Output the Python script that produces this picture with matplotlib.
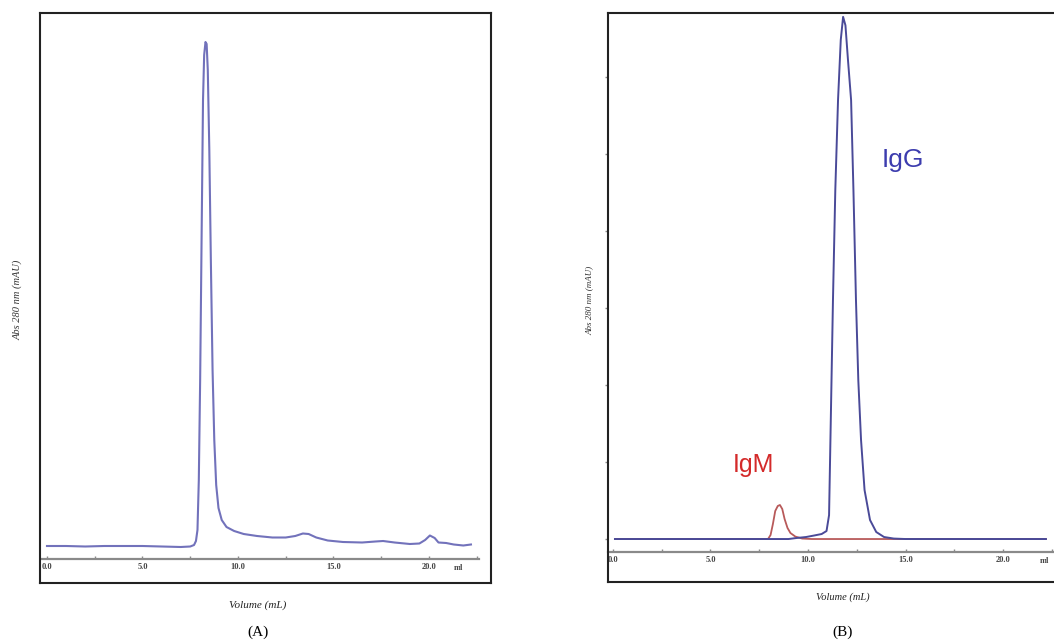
import numpy as np
import matplotlib
matplotlib.use('Agg')
import matplotlib.pyplot as plt

# panel A : single trace (volume mL, abs mAU)
vol_a = [0.0, 1.0, 2.0, 3.0, 4.0, 5.0, 6.0, 7.0, 7.5, 7.7, 7.8, 7.88, 7.95, 8.02, 8.1,
         8.17, 8.23, 8.3, 8.36, 8.42, 8.5, 8.58, 8.67, 8.76, 8.86, 8.98, 9.15, 9.4, 9.8,
         10.3, 11.0, 11.8, 12.5, 13.0, 13.4, 13.7, 14.1, 14.7, 15.5, 16.5, 17.2, 17.6,
         18.2, 19.0, 19.5, 19.8, 20.05, 20.3, 20.5, 20.9, 21.3, 21.8, 22.2]
abs_a = [13, 13, 12.5, 13, 13, 13, 12.5, 12, 12.5, 14, 18, 29, 79, 179, 329,
         459, 504, 517, 515, 489, 409, 299, 189, 119, 74, 51, 39, 32, 28,
         25, 23, 21.5, 21.5, 23, 25.5, 25, 21.5, 18.5, 17, 16.5, 17.5, 18,
         16.5, 15, 15.5, 19, 23.5, 21, 16.5, 16, 14.5, 13.5, 14.5]

# panel B : IgG (blue) and IgM (red) traces
vol_igg = [0.1, 2, 4, 6, 8, 9.0, 9.4, 9.9, 10.3, 10.7, 10.95, 11.08, 11.15, 11.28, 11.4,
           11.54, 11.68, 11.8, 11.92, 12.05, 12.21, 12.33, 12.46, 12.58, 12.72, 12.9,
           13.18, 13.5, 13.9, 14.4, 15, 17, 19, 20.5, 22.2]
abs_igg = [0, 0, 0, 0, 0, 0, 1.3, 2.6, 4.5, 6.5, 10.4, 31, 128.6, 310, 453,
           570, 648, 678, 667, 622, 570, 453, 310, 206, 128.6, 63.6,
           24.7, 9.1, 2.6, 0.6, 0, 0, 0, 0, 0]

vol_igm = [0.1, 3, 6, 7.95, 8.08, 8.2, 8.32, 8.45, 8.56, 8.68, 8.8, 8.95, 9.1, 9.35,
           9.7, 10.2, 15, 22.2]
abs_igm = [0, 0, 0, 0, 5.2, 19.5, 36.4, 42.9, 44.2, 39, 26, 14.3, 7.8, 3.2,
           0.6, 0, 0, 0]

x_major = [0, 5, 10, 15, 20]
x_minor = [2.5, 7.5, 12.5, 17.5, 22.5]
x_labels = ['0.0', '5.0', '10.0', '15.0', '20.0']

W, H = 1054, 644
fig = plt.figure(figsize=(W / 100, H / 100), dpi=100)

serif = 'Liberation Serif'


def inner_axis(ax, loc, bounds=None):
    sec = ax.secondary_xaxis(loc)
    sec.spines['bottom'].set_color('#8a8a8a')
    sec.spines['bottom'].set_linewidth(1.6)
    if bounds is not None:
        sec.spines['bottom'].set_bounds(*bounds)
    sec.set_xticks(x_major)
    sec.set_xticklabels(x_labels)
    sec.set_xticks(x_minor, minor=True)
    sec.tick_params(which='both', direction='in', length=2.5, width=1,
                    color='#8a8a8a', pad=3)
    sec.tick_params(which='major', labelsize=6, labelcolor='#444444')
    for t in sec.get_xticklabels():
        t.set_family(serif)
        t.set_fontweight('bold')
    return sec


def frame(ax):
    for s in ax.spines.values():
        s.set_color('#222222')
        s.set_linewidth(1.5)
    ax.set_xticks([])


# ---- panel A
axA = fig.add_axes([40 / W, (H - 583) / H, 451 / W, 570 / H])
frame(axA)
axA.set_yticks([])
axA.plot(vol_a, abs_a, color='#7272bb', lw=1.5)
axA.set_xlim(-0.366, 23.25)
axA.set_ylim(-24, 546)
inner_axis(axA, 24 / 570, bounds=(-0.3, 22.6))
axA.text(21.55, 24 / 570 - 0.016, 'ml', transform=axA.get_xaxis_transform(),
         ha='center', va='center', fontsize=6, family=serif, fontweight='bold',
         color='#444444')

# ---- panel B
axB = fig.add_axes([608 / W, (H - 582) / H, 450 / W, 569 / H])
frame(axB)
axB.spines['right'].set_visible(False)
axB.plot(vol_igm, abs_igm, color='#b85a5a', lw=1.3)
axB.plot(vol_igg, abs_igg, color='#4a4a98', lw=1.4)
axB.set_xlim(-0.256, 22.82)
axB.set_ylim(-55.8, 683)
axB.set_yticks([0, 100, 200, 300, 400, 500, 600])
axB.set_yticklabels([])
axB.tick_params(axis='y', direction='out', length=2.5, width=1, color='#8a8a8a')
inner_axis(axB, 30 / 569)
axB.text(22.1, 30 / 569 - 0.016, 'ml', transform=axB.get_xaxis_transform(),
         ha='center', va='center', fontsize=6, family=serif, fontweight='bold',
         color='#444444')
axB.text(14.87, 492, 'IgG', color='#3c3cae', fontsize=19, family='Liberation Sans',
         ha='center', va='center')
axB.text(7.2, 96, 'IgM', color='#d42a2a', fontsize=18, family='Liberation Sans',
         ha='center', va='center')

# ---- labels
fig.text(18 / W, 1 - 300 / H, 'Abs 280 nm (mAU)', rotation=90, ha='center', va='center',
         fontsize=7.5, family=serif, style='italic', color='#333333')
fig.text(590 / W, 1 - 300 / H, 'Abs 280 nm (mAU)', rotation=90, ha='center', va='center',
         fontsize=6.5, family=serif, style='italic', color='#333333')
fig.text(258 / W, 1 - 605 / H, 'Volume (mL)', ha='center', va='center',
         fontsize=8, family=serif, style='italic', color='#222222')
fig.text(843 / W, 1 - 597 / H, 'Volume (mL)', ha='center', va='center',
         fontsize=7.5, family=serif, style='italic', color='#222222')
fig.text(258 / W, 1 - 632 / H, '(A)', ha='center', va='center', fontsize=11, family=serif)
fig.text(843 / W, 1 - 632 / H, '(B)', ha='center', va='center', fontsize=11, family=serif)

fig.savefig('out.png', dpi=100)
